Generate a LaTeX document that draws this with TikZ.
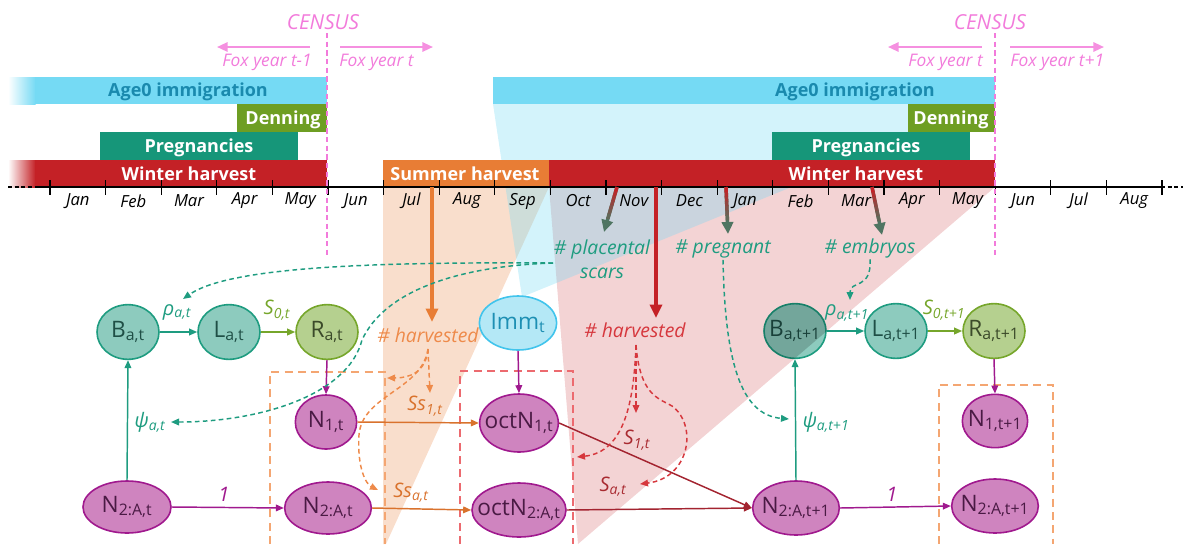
\documentclass[tikz,border=0pt]{standalone}
\usepackage{fontspec}
\setmainfont{Open Sans}
\usetikzlibrary{arrows.meta,shapes.geometric,calc}
\definecolor{cAgeBlue}{HTML}{75DAF4}
\definecolor{cAgeText}{HTML}{1A8AAE}
\definecolor{cDen}{HTML}{6E9E23}
\definecolor{cPreg}{HTML}{169679}
\definecolor{cWin}{HTML}{C42126}
\definecolor{cSum}{HTML}{E87D35}
\definecolor{cCensus}{HTML}{F27BDB}
\definecolor{cFox}{HTML}{F590E0}
\definecolor{cTealD}{HTML}{1E9C80}
\definecolor{cTealF}{HTML}{8DCBBE}
\definecolor{cTealT}{HTML}{1F4F46}
\definecolor{cGrnD}{HTML}{76A62B}
\definecolor{cGrnF}{HTML}{B5D08F}
\definecolor{cGrnT}{HTML}{3B4A2A}
\definecolor{cMagD}{HTML}{A0198E}
\definecolor{cMagF}{HTML}{CF84BF}
\definecolor{cMagT}{HTML}{4A1A44}
\definecolor{cImmD}{HTML}{41C4EC}
\definecolor{cImmF}{HTML}{B4E8F6}
\definecolor{cImmT}{HTML}{1D8FB3}
\definecolor{cOrgL}{HTML}{EE8A4A}
\definecolor{cOrgE}{HTML}{D9722D}
\definecolor{cOrgBox}{HTML}{F4A672}
\definecolor{cRedL}{HTML}{D6373D}
\definecolor{cRedS}{HTML}{A82A30}
\definecolor{cRedE}{HTML}{A32430}
\definecolor{cRedBox}{HTML}{EC6A6F}
\definecolor{cArrG}{HTML}{4F7562}
\tikzset{
  ell/.style={ellipse, draw, line width=1.2pt, inner sep=-14pt, font=\fontsize{17}{18}\selectfont},
  tealnode/.style={ell, draw=cTealD, fill=cTealF, text=cTealT, minimum width=46.5pt, minimum height=41pt},
  grnnode/.style={ell, draw=cGrnD, fill=cGrnF, text=cGrnT, minimum width=46.5pt, minimum height=41pt},
  magnode/.style={ell, draw=cMagD, fill=cMagF, text=cMagT},
  immnode/.style={ell, draw=cImmD, fill=cImmF, text=cImmT},
  bartext/.style={font=\fontsize{13.5}{14}\selectfont\bfseries, text=white, inner sep=0pt},
  month/.style={font=\fontsize{12.5}{13}\selectfont\itshape, inner sep=0pt},
  lab/.style={font=\fontsize{14.5}{15}\selectfont\itshape, inner sep=1pt},
  elab/.style={font=\fontsize{15}{16}\selectfont\itshape, inner sep=1pt},
  conn/.style={line width=1.1pt, -{Triangle[length=6pt,width=5pt]}},
  dconn/.style={line width=1.1pt, dash pattern=on 3.5pt off 2.5pt, -{Triangle[length=6pt,width=5pt]}},
  bigarr/.style={line width=2.4pt, -{Triangle[length=10pt,width=9pt]}},
  boxd/.style={line width=1.1pt, dash pattern=on 6pt off 4pt},
  censusl/.style={cCensus, line width=1.1pt, dash pattern=on 4pt off 2.5pt},
  foxarr/.style={cFox, line width=1.6pt, -{Triangle[length=8pt,width=7pt]}},
  foxtext/.style={font=\fontsize{13}{14}\selectfont\itshape, text=cCensus, inner sep=0pt},
  censustext/.style={font=\fontsize{15.5}{16}\selectfont\itshape, text=cCensus, inner sep=0pt},
}
\newcommand{\gradarrow}[2]{%
  \draw[line width=2.6pt, cArrG, -{Triangle[length=9pt,width=8.5pt]}] (#1) -- (#2);
  \foreach \k in {0,...,6}{%
    \pgfmathtruncatemacro{\pc}{100-\k*14}%
    \draw[line width=2.6pt, cWin!\pc!cArrG] ($(#1)!\k*0.1!(#2)$) -- ($(#1)!\k*0.1+0.11!(#2)$);}%
}
\begin{document}
\begin{tikzpicture}[x=0.75pt,y=-0.75pt]
\useasboundingbox (0,0) rectangle (1183,544);
% translucent regions
\fill[cSum, fill opacity=0.25] (383,187) -- (549,187) -- (386,544) -- (383,544) -- cycle;
\fill[cWin, fill opacity=0.2] (549,187) -- (995,187) -- (578,544) -- cycle;
\fill[cAgeBlue, fill opacity=0.32] (493,104) -- (995,104) -- (522,297) -- cycle;
% bars
\shade[left color=white, right color=cAgeBlue] (8,77) rectangle (35.5,104);
\fill[cAgeBlue] (35,77) rectangle (327,104);
\fill[cDen] (237,104) rectangle (327,132);
\fill[cPreg] (100,132) rectangle (298,160);
\shade[left color=white, right color=cWin] (8,160) rectangle (35.5,187);
\fill[cWin] (35,160) rectangle (327,187);
\fill[cSum] (383,160) rectangle (549,187);
\fill[cWin] (549,160) rectangle (995,187);
\fill[cAgeBlue] (493,77) rectangle (995,104);
\fill[cDen] (908,104) rectangle (995,132);
\fill[cPreg] (772,132) rectangle (970,160);
\node[bartext, text=cAgeText] (ageL) at (188,92) {Age0 immigration};
\node[bartext] (denL) at (283,120) {Denning};
\node[bartext] (pregL) at (199,148) {Pregnancies};
\node[bartext] (winL) at (189,174) {Winter harvest};
\node[bartext] (sumB) at (465,174) {Summer harvest};
\node[bartext] (winR) at (856,174) {Winter harvest};
\node[bartext, text=cAgeText] (ageR) at (855,92) {Age0 immigration};
\node[bartext] (denR) at (951,120) {Denning};
\node[bartext] (pregR) at (866,148) {Pregnancies};
% axis
\draw[line width=0.8pt] (35,187) -- (1161,187);
\draw[line width=0.8pt, dash pattern=on 3pt off 2pt] (8,187) -- (35,187);
\draw[line width=0.8pt, dash pattern=on 3pt off 2pt] (1161,187) -- (1183,187);
\foreach \k in {0,...,20} \draw[line width=0.8pt] ({50+55.6*\k},180) -- ({50+55.6*\k},195);
\foreach \m [count=\k from 0] in {Jan,Feb,Mar,Apr,May,Jun,Jul,Aug,Sep,Oct,Nov,Dec,Jan,Feb,Mar,Apr,May,Jun,Jul,Aug}
  \node[month] at ({77.8+55.6*\k},201) {\m};
% census
\node[censustext] (cen1) at (323,22) {CENSUS};
\node[censustext] (cen2) at (990,22) {CENSUS};
\coordinate (c1t) at (327,33); \coordinate (c1b) at (327,257);
\coordinate (c2t) at (995,33); \coordinate (c2b) at (995,257);
\draw[censusl] (c1t) -- (c1b);
\draw[censusl] (c2t) -- (c2b);
\coordinate (fa1s) at (310,47); \coordinate (fa1e) at (217,47);
\coordinate (fa2s) at (340,47); \coordinate (fa2e) at (433,47);
\coordinate (fa3s) at (982,47); \coordinate (fa3e) at (888,47);
\coordinate (fa4s) at (1010,47); \coordinate (fa4e) at (1104,47);
\draw[foxarr] (fa1s) -- (fa1e);
\draw[foxarr] (fa2s) -- (fa2e);
\draw[foxarr] (fa3s) -- (fa3e);
\draw[foxarr] (fa4s) -- (fa4e);
\node[foxtext, anchor=east] (fy1) at (312,62) {Fox year t-1};
\node[foxtext, anchor=west] (fy2) at (339,62) {Fox year t};
\node[foxtext, anchor=east] (fy3) at (983,62) {Fox year t};
\node[foxtext, anchor=west] (fy4) at (1010,62) {Fox year t+1};
% dashed boxes
\draw[boxd, cOrgBox] (270,544) -- (270,372) -- (385,372) -- (385,544);
\draw[boxd, cRedBox] (460,544) -- (460,371) -- (573,371) -- (573,544);
\draw[boxd, cOrgBox] (939,544) -- (939,385) -- (1053,385) -- (1053,544);
% nodes
\node[tealnode] (Bt) at (128,332) {B\textsubscript{a,t}};
\node[tealnode] (Lt) at (229,332) {L\textsubscript{a,t}};
\node[grnnode] (Rt) at (327,332) {R\textsubscript{a,t}};
\node[immnode, minimum width=58pt, minimum height=40.5pt] (Imm) at (518,323) {Imm\textsubscript{t}};
\node[tealnode] (Bt1) at (795,331) {B\textsubscript{a,t+1}};
\begin{scope}
\clip (795,331) ellipse [x radius=23.8pt, y radius=21pt];
\fill[black, fill opacity=0.18] (549,187) -- (995,187) -- (578,544) -- cycle;
\end{scope}
\node[tealnode] (Lt1) at (896,331) {L\textsubscript{a,t+1}};
\node[grnnode] (Rt1) at (994,331) {R\textsubscript{a,t+1}};
\node[magnode, minimum width=46pt, minimum height=40.5pt] (N1t) at (326,422) {N\textsubscript{1,t}};
\node[magnode, minimum width=66pt, minimum height=39pt] (N2a) at (127,507) {N\textsubscript{2:A,t}};
\node[magnode, minimum width=65pt, minimum height=39pt] (N2b) at (328,508) {N\textsubscript{2:A,t}};
\node[magnode, minimum width=59pt, minimum height=43.5pt] (oN1) at (519,423) {octN\textsubscript{1,t}};
\node[magnode, minimum width=70.5pt, minimum height=40.5pt] (oN2) at (519,510) {octN\textsubscript{2:A,t}};
\node[magnode, minimum width=65pt, minimum height=40.5pt] (N2c) at (796,508) {N\textsubscript{2:A,t+1}};
\node[magnode, minimum width=49pt, minimum height=40pt] (N1t1) at (995,421) {N\textsubscript{1,t+1}};
\node[magnode, minimum width=65pt, minimum height=40.5pt] (N2d) at (995,506) {N\textsubscript{2:A,t+1}};
% text labels
\node[lab, text=cTealD] (plac) at (602,249) {\# placental};
\node[lab, text=cTealD] (scars) at (602,273) {scars};
\node[lab, text=cTealD] (preg) at (723,249) {\# pregnant};
\node[lab, text=cTealD] (emb) at (870,248) {\# embryos};
\node[lab, text=cOrgL] (hs) at (428,335) {\# harvested};
\node[lab, text=cRedL] (hw) at (635,330) {\# harvested};
\node[elab, text=cTealD] (rhoA) at (177,312) {ρ\textsubscript{a,t}};
\node[elab, text=cGrnD] (s0A) at (277,310) {S\textsubscript{0,t}};
\node[elab, text=cTealD] (psiA) at (150,422) {ψ\textsubscript{a,t}};
\node[elab, text=cMagD] (oneA) at (224,494) {1};
\node[elab, text=cOrgE] (Ss1) at (425,406) {Ss\textsubscript{1,t}};
\node[elab, text=cOrgE] (Ssa) at (411,493) {Ss\textsubscript{a,t}};
\node[elab, text=cRedS] (S1) at (637,440) {S\textsubscript{1,t}};
\node[elab, text=cRedS] (Sa) at (613,487) {S\textsubscript{a,t}};
\node[elab, text=cTealD] (rhoB) at (847,313) {ρ\textsubscript{a,t+1}};
\node[elab, text=cGrnD] (s0B) at (944,310) {S\textsubscript{0,t+1}};
\node[elab, text=cTealD] (psiB) at (826,422) {ψ\textsubscript{a,t+1}};
\node[elab, text=cMagD] (oneB) at (892,494) {1};
% big harvest arrows
\coordinate (sh0) at (432,187);
\coordinate (wh0) at (656,187);
\coordinate (sh1) at (432,322);
\coordinate (wh1) at (656,318);
\draw[bigarr, cSum] (sh0) -- (sh1);
\draw[bigarr, cWin] (wh0) -- (wh1);
\coordinate (g1s) at (617,187); \coordinate (g1e) at (604,232);
\coordinate (g2s) at (726,187); \coordinate (g2e) at (728,234);
\coordinate (g3s) at (872,187); \coordinate (g3e) at (882,235);
\gradarrow{g1s}{g1e}
\gradarrow{g2s}{g2e}
\gradarrow{g3s}{g3e}
% solid connectors
\draw[conn, cTealD] (Bt.east) -- (Lt.west);
\draw[conn, cGrnD] (Lt.east) -- (Rt.west);
\draw[conn, cMagD] (Rt.south) -- (N1t.north);
\draw[conn, cTealD] (N2a.north) -- (Bt.south);
\draw[conn, cMagD] (N2a.east) -- (N2b.west);
\draw[conn, cOrgE] (N1t.east) -- (oN1.west);
\draw[conn, cOrgE] (N2b.east) -- (oN2.west);
\draw[conn, cMagD] (Imm.south) -- (oN1.north);
\draw[conn, cRedE] (oN1.east) -- (N2c.west);
\draw[conn, cRedE] (oN2.east) -- (N2c.west);
\draw[conn, cTealD] (N2c.north) -- (Bt1.south);
\draw[conn, cMagD] (N2c.east) -- (N2d.west);
\draw[conn, cTealD] (Bt1.east) -- (Lt1.west);
\draw[conn, cGrnD] (Lt1.east) -- (Rt1.west);
\draw[conn, cMagD] (Rt1.south) -- (N1t1.north);
% dashed teal connectors
\coordinate (pl0) at (553,263);
\coordinate (rhoAin) at (183,299);
\coordinate (psiAin) at (171,422);
\coordinate (psiBin) at (789,419);
\coordinate (rhoBin) at (850,300);
\draw[dconn, cTealD] (pl0) .. controls (380,262) and (230,266) .. (rhoAin);
\draw[dconn, cTealD] (pl0) .. controls (460,266) and (385,290) .. (362,340) .. controls (348,395) and (260,422) .. (psiAin);
\draw[dconn, cTealD] (preg.south) .. controls (725,360) and (740,415) .. (psiBin);
\draw[dconn, cTealD] (emb.south) .. controls (872,290) and (850,280) .. (rhoBin);
% dashed orange connectors
\coordinate (hs0) at (428,349);
\coordinate (hsL) at (387,378);
\coordinate (hsD) at (430,393);
\coordinate (ssaIn) at (378,490);
\draw[dconn, cOrgL] (hs0) .. controls (426,372) and (410,378) .. (hsL);
\draw[dconn, cOrgL] (hs0) -- (hsD);
\draw[dconn, cOrgL] (hs0) .. controls (422,390) and (362,395) .. (359,435) .. controls (357,468) and (366,484) .. (ssaIn);
% dashed red connectors
\coordinate (hw0) at (636,345);
\coordinate (s1in) at (636,413);
\coordinate (oboxIn) at (577,457);
\coordinate (saIn) at (640,484);
\draw[dconn, cRedL] (hw0) -- (s1in);
\draw[dconn, cRedL] (hw0) .. controls (634,400) and (625,452) .. (oboxIn);
\draw[dconn, cRedL] (hw0) .. controls (640,395) and (658,398) .. (672,406) .. controls (698,425) and (690,478) .. (saIn);
\end{tikzpicture}
\end{document}
